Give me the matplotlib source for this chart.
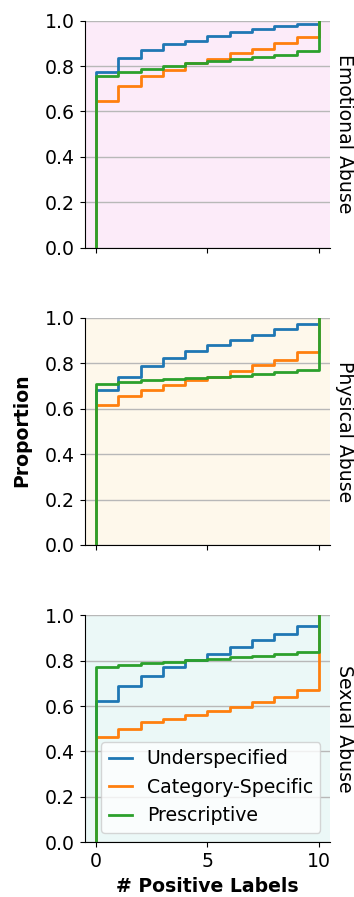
import matplotlib
matplotlib.use("Agg")
import matplotlib.pyplot as plt
import numpy as np

# proportion of items with at most k positive labels, k = 0..9 (k = 10 reaches 1.0)
labels_k = list(range(11))
categories = ["Emotional Abuse", "Physical Abuse", "Sexual Abuse"]
series_names = ["Underspecified", "Category-Specific", "Prescriptive"]

emotional_under = [0.775, 0.834, 0.871, 0.896, 0.912, 0.931, 0.949, 0.962, 0.975, 0.987]
emotional_cat = [0.647, 0.713, 0.756, 0.782, 0.812, 0.832, 0.856, 0.876, 0.900, 0.926]
emotional_pres = [0.754, 0.774, 0.788, 0.801, 0.815, 0.824, 0.831, 0.840, 0.850, 0.868]

physical_under = [0.684, 0.742, 0.788, 0.824, 0.854, 0.881, 0.902, 0.925, 0.950, 0.972]
physical_cat = [0.615, 0.656, 0.684, 0.703, 0.725, 0.741, 0.767, 0.791, 0.816, 0.852]
physical_pres = [0.707, 0.717, 0.725, 0.731, 0.736, 0.739, 0.745, 0.753, 0.761, 0.772]

sexual_under = [0.622, 0.688, 0.733, 0.773, 0.802, 0.828, 0.861, 0.891, 0.919, 0.953]
sexual_cat = [0.462, 0.501, 0.528, 0.543, 0.560, 0.578, 0.597, 0.616, 0.641, 0.672]
sexual_pres = [0.771, 0.783, 0.790, 0.796, 0.804, 0.809, 0.815, 0.821, 0.828, 0.837]

all_series = [
    [emotional_under, emotional_cat, emotional_pres],
    [physical_under, physical_cat, physical_pres],
    [sexual_under, sexual_cat, sexual_pres],
]
bg_colors = ["#fcebf9", "#fef8eb", "#ebf8f7"]
line_colors = ["#1f77b4", "#ff7f0e", "#2ca02c"]

FS = 13.6
plt.rcParams["font.size"] = FS

fig, axes = plt.subplots(3, 1, figsize=(3.54, 8.97), dpi=100, sharex=True)
fig.subplots_adjust(left=0.24, right=0.932, top=0.977, bottom=0.061, hspace=0.31)

for ax, cat, series, bg in zip(axes, categories, all_series, bg_colors):
    ax.set_facecolor(bg)
    for name, vals, col in zip(series_names, series, line_colors):
        xs = [0] + labels_k
        ys = [0.0] + list(vals) + [1.0]
        ax.plot(xs, ys, drawstyle="steps-post", color=col, lw=2, label=name)
    ax.set_xlim(-0.5, 10.5)
    ax.set_ylim(0, 1)
    ax.set_yticks(np.arange(0, 1.01, 0.2))
    ax.set_xticks([0, 5, 10])
    ax.grid(axis="y", color="#b8b8b8", lw=1)
    ax.set_axisbelow(True)
    ax.spines["top"].set_visible(False)
    ax.spines["right"].set_visible(False)
    ax.text(1.02, 0.5, cat, transform=ax.transAxes, rotation=-90,
            ha="left", va="center", fontsize=FS)

axes[2].legend(loc="lower right", fontsize=FS, handlelength=1.2)
axes[2].set_xlabel("# Positive Labels", fontweight="bold")
fig.text(0.062, 0.52, "Proportion", rotation=90, ha="center", va="center",
         fontweight="bold", fontsize=FS)

fig.savefig("out.png", dpi=100)
